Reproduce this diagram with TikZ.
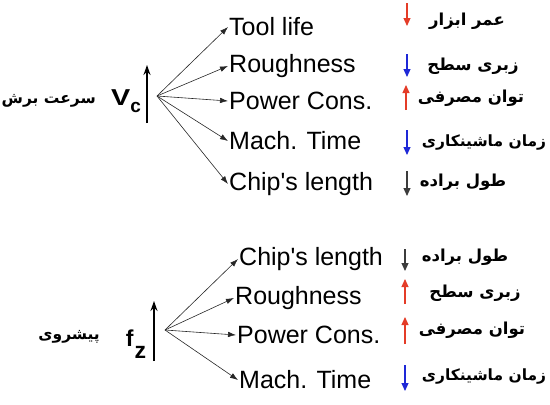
\documentclass[tikz,border=0pt]{standalone}
\usepackage{fontspec}
\setmainfont{Liberation Sans}
\newfontfamily\arabicfont[Script=Arabic]{DejaVu Sans}
\TeXXeTstate=1
\usetikzlibrary{arrows.meta}
\definecolor{upred}{RGB}{228,60,40}
\definecolor{downblue}{RGB}{30,40,215}
\definecolor{downgray}{RGB}{60,60,60}
\tikzset{
  eng/.style={anchor=west,inner sep=1pt,font=\fontsize{25}{28}\selectfont},
  fa/.style={inner sep=0pt,font=\arabicfont\bfseries\fontsize{16.5}{20}\selectfont},
  falong/.style={fa,font=\arabicfont\bfseries\fontsize{15.5}{20}\selectfont},
  falab/.style={anchor=east,inner sep=0pt,font=\arabicfont\bfseries\fontsize{15.5}{20}\selectfont},
  branch/.style={-{Latex[length=8pt,width=5.5pt]},line width=0.6pt,black!85},
  main/.style={-{Stealth[length=10pt,width=7pt]},line width=1.6pt},
  trend/.style={line width=1.1pt,-{Triangle[length=8pt,width=7pt]}},
  sym/.style={inner sep=0pt,font=\bfseries\fontsize{23}{25}\selectfont}
}
\begin{document}
\begin{tikzpicture}[x=1pt,y=-1pt]
\useasboundingbox (0,0) rectangle (550,405);
% ---------- cutting speed group ----------
\node[falab] (vcfa) at (96,101) {\beginR سرعت برش\endR};
\node[sym] (vc) at (126,101) {\scalebox{1.25}[1]{V}\raisebox{-7pt}{\fontsize{19}{20}\selectfont c}};
\coordinate (vcb) at (147,123);
\coordinate (vct) at (147,65);
\draw[main] (vcb) -- (vct);
\coordinate (hub1) at (157,96);
\node[eng] (t1) at (228,27) {Tool life};
\node[eng] (t2) at (228,66) {Roughness};
\node[eng] (t3) at (228,101) {Power Cons.};
\node[eng] (t4) at (228,141) {Mach. Time};
\node[eng] (t5) at (228,184) {Chip\textquotesingle s length};
\foreach \n in {t1,t2,t3,t4,t5} \draw[branch] (hub1) -- (\n.west);
% trends
\coordinate (a1s) at (407,3);   \coordinate (a1e) at (407,26);
\coordinate (a2s) at (407,54);  \coordinate (a2e) at (407,77);
\coordinate (a3s) at (406,110); \coordinate (a3e) at (406,85);
\coordinate (a4s) at (407,130); \coordinate (a4e) at (407,155);
\coordinate (a5s) at (407,171); \coordinate (a5e) at (407,196);
\draw[trend,upred] (a1s) -- (a1e);
\draw[trend,downblue] (a2s) -- (a2e);
\draw[trend,upred] (a3s) -- (a3e);
\draw[trend,downblue] (a4s) -- (a4e);
\draw[trend,downgray] (a5s) -- (a5e);
\node[fa] (p1) at (467,21) {\beginR عمر ابزار\endR};
\node[fa] (p2) at (473,66) {\beginR زبری سطح\endR};
\node[fa] (p3) at (471,98) {\beginR توان مصرفی\endR};
\node[falong] (p4) at (484,143) {\beginR زمان ماشینکاری\endR};
\node[fa] (p5) at (463,182) {\beginR طول براده\endR};
% ---------- feed group ----------
\node[falab] (fzfa) at (100,337) {\beginR پیشروی\endR};
\node[sym] (fz) at (136,344) {\raisebox{6pt}{f}\kern1pt\raisebox{-6pt}{z}};
\coordinate (fzb) at (154,361);
\coordinate (fzt) at (154,301);
\draw[main] (fzb) -- (fzt);
\coordinate (hub2) at (165,330);
\node[eng] (s1) at (238,259) {Chip\textquotesingle s length};
\node[eng] (s2) at (234,298) {Roughness};
\node[eng] (s3) at (236,335) {Power Cons.};
\node[eng] (s4) at (238,380) {Mach. Time};
\foreach \n in {s1,s2,s3,s4} \draw[branch] (hub2) -- (\n.west);
\coordinate (b1s) at (405,249); \coordinate (b1e) at (405,271);
\coordinate (b2s) at (405,304); \coordinate (b2e) at (405,279);
\coordinate (b3s) at (405,344); \coordinate (b3e) at (405,317);
\coordinate (b4s) at (405,365); \coordinate (b4e) at (405,391);
\draw[trend,downgray] (b1s) -- (b1e);
\draw[trend,upred] (b2s) -- (b2e);
\draw[trend,upred] (b3s) -- (b3e);
\draw[trend,downblue] (b4s) -- (b4e);
\node[fa] (q1) at (465,257) {\beginR طول براده\endR};
\node[fa] (q2) at (475,293) {\beginR زبری سطح\endR};
\node[fa] (q3) at (472,330) {\beginR توان مصرفی\endR};
\node[falong] (q4) at (484,376) {\beginR زمان ماشینکاری\endR};
\end{tikzpicture}
\end{document}
